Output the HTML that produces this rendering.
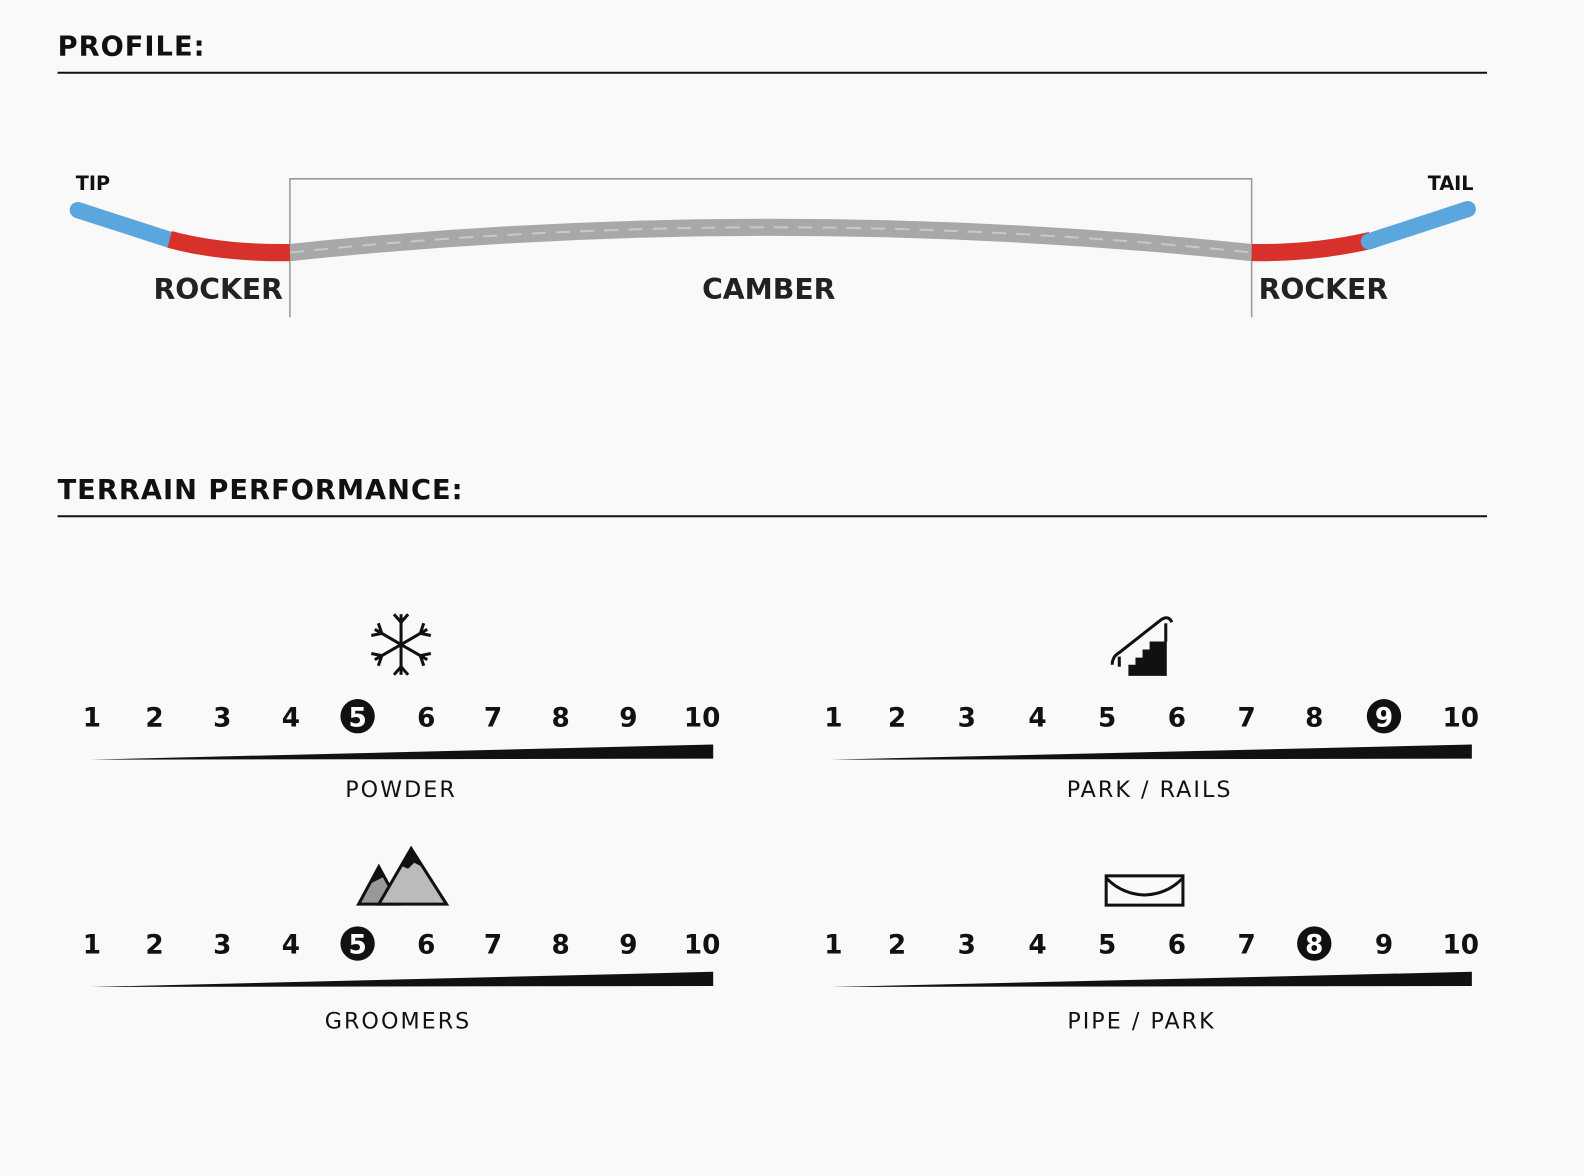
<!DOCTYPE html>
<html><head><meta charset="utf-8"><style>
html,body{margin:0;padding:0;background:#f9f9f9;}
svg{display:block;font-family:"DejaVu Sans","Liberation Sans",sans-serif;}
.h{font-weight:bold;font-size:27px;letter-spacing:1px;fill:#111}
.n{font-size:26px;fill:#111;text-anchor:middle;font-weight:bold}
.l{font-size:22px;letter-spacing:2px;fill:#111;text-anchor:middle}
.r{font-weight:bold;font-size:28px;fill:#222;text-anchor:middle}
</style></head><body>
<svg width="1584" height="1176" viewBox="0 0 1584 1176">
<rect width="1584" height="1176" fill="#f9f9f9"/>
<g transform="scale(1.0102)">
<text x="57" y="55" class="h">PROFILE:</text>
<line x1="57" y1="72" x2="1472" y2="72" stroke="#111" stroke-width="2"/>
<text x="57" y="494" class="h">TERRAIN PERFORMANCE:</text>
<line x1="57" y1="511" x2="1472" y2="511" stroke="#111" stroke-width="2"/>

<polyline points="287,314 287,177 1239,177 1239,314" fill="none" stroke="#999" stroke-width="1.5"/>
<path d="M287,250 Q763,200 1239,250" fill="none" stroke="#a8a8a8" stroke-width="17"/>
<path d="M287,250 Q763,200 1239,250" fill="none" stroke="#c8c8c8" stroke-width="2" stroke-dasharray="14 10"/>
<path d="M77,208 L170,238" stroke="#5aa6dd" stroke-width="16" stroke-linecap="round" fill="none"/>
<path d="M168,237 Q220,251 287,250" stroke="#d8302a" stroke-width="17" fill="none"/>
<path d="M1239,250 Q1300,251 1357,238" stroke="#d8302a" stroke-width="17" fill="none"/>
<path d="M1355,239 L1453,207" stroke="#5aa6dd" stroke-width="16" stroke-linecap="round" fill="none"/>
<text x="92" y="188" font-weight="bold" font-size="19" fill="#111" text-anchor="middle">TIP</text>
<text x="1436" y="188" font-weight="bold" font-size="19" fill="#111" text-anchor="middle">TAIL</text>
<text x="216" y="296" class="r">ROCKER</text>
<text x="761" y="296" class="r">CAMBER</text>
<text x="1310" y="296" class="r">ROCKER</text>

<text x="91" y="719" class="n">1</text><text x="153" y="719" class="n">2</text><text x="220" y="719" class="n">3</text><text x="288" y="719" class="n">4</text>
<circle cx="354" cy="709" r="17" fill="#111"/><text x="354" y="719" class="n" style="fill:#fff">5</text>
<text x="422" y="719" class="n">6</text><text x="488" y="719" class="n">7</text><text x="555" y="719" class="n">8</text><text x="622" y="719" class="n">9</text><text x="695" y="719" class="n">10</text>
<polygon points="90,752 706,737 706,751" fill="#111"/>
<text x="397" y="789" class="l">POWDER</text>

<text x="91" y="944" class="n">1</text><text x="153" y="944" class="n">2</text><text x="220" y="944" class="n">3</text><text x="288" y="944" class="n">4</text>
<circle cx="354" cy="934" r="17" fill="#111"/><text x="354" y="944" class="n" style="fill:#fff">5</text>
<text x="422" y="944" class="n">6</text><text x="488" y="944" class="n">7</text><text x="555" y="944" class="n">8</text><text x="622" y="944" class="n">9</text><text x="695" y="944" class="n">10</text>
<polygon points="90,977 706,962 706,976" fill="#111"/>
<text x="394" y="1018" class="l">GROOMERS</text>

<text x="825" y="719" class="n">1</text><text x="888" y="719" class="n">2</text><text x="957" y="719" class="n">3</text><text x="1027" y="719" class="n">4</text><text x="1096" y="719" class="n">5</text><text x="1165" y="719" class="n">6</text><text x="1234" y="719" class="n">7</text><text x="1301" y="719" class="n">8</text>
<circle cx="1370" cy="709" r="17" fill="#111"/><text x="1370" y="719" class="n" style="fill:#fff">9</text>
<text x="1446" y="719" class="n">10</text>
<polygon points="823,752 1457,737 1457,751" fill="#111"/>
<text x="1138" y="789" class="l">PARK / RAILS</text>

<text x="825" y="944" class="n">1</text><text x="888" y="944" class="n">2</text><text x="957" y="944" class="n">3</text><text x="1027" y="944" class="n">4</text><text x="1096" y="944" class="n">5</text><text x="1165" y="944" class="n">6</text><text x="1234" y="944" class="n">7</text>
<circle cx="1301" cy="934" r="17" fill="#111"/><text x="1301" y="944" class="n" style="fill:#fff">8</text>
<text x="1370" y="944" class="n">9</text><text x="1446" y="944" class="n">10</text>
<polygon points="823,977 1457,962 1457,976" fill="#111"/>
<text x="1130" y="1018" class="l">PIPE / PARK</text>

<g stroke="#111" stroke-width="3" fill="none" transform="translate(397,638)">
<g id="arm"><line x1="0" y1="0" x2="0" y2="-30"/><polyline points="-7,-30 0,-22 7,-30"/></g>
<use href="#arm" transform="rotate(60)"/><use href="#arm" transform="rotate(120)"/><use href="#arm" transform="rotate(180)"/><use href="#arm" transform="rotate(240)"/><use href="#arm" transform="rotate(300)"/>
</g>
<polygon points="355,895 375,858 395,895" fill="#999" stroke="#111" stroke-width="3"/>
<polygon points="375,895 407,840 442,895" fill="#bbb" stroke="#111" stroke-width="3"/>
<polygon points="397,857 407,840 418,858 410,854 404,860" fill="#111"/>
<polygon points="366,875 375,858 380,868" fill="#111"/>
<path d="M1117,669 L1117,658 L1124,658 L1124,651 L1131,651 L1131,643 L1138,643 L1138,635 L1155,635 L1155,669 Z" fill="#111"/>
<path d="M1101,658 Q1101,650 1108,646 L1150,613 Q1157,609 1160,616" stroke="#111" stroke-width="3" fill="none"/>
<path d="M1108,660 L1108,650" stroke="#111" stroke-width="3" fill="none"/>
<path d="M1154,635 L1154,617" stroke="#111" stroke-width="3" fill="none"/>
<rect x="1095" y="867" width="76" height="29" fill="none" stroke="#111" stroke-width="3"/>
<path d="M1095,869 Q1110,885 1133,886 Q1156,885 1171,869" fill="none" stroke="#111" stroke-width="3"/>
</g>
</svg>
</body></html>
